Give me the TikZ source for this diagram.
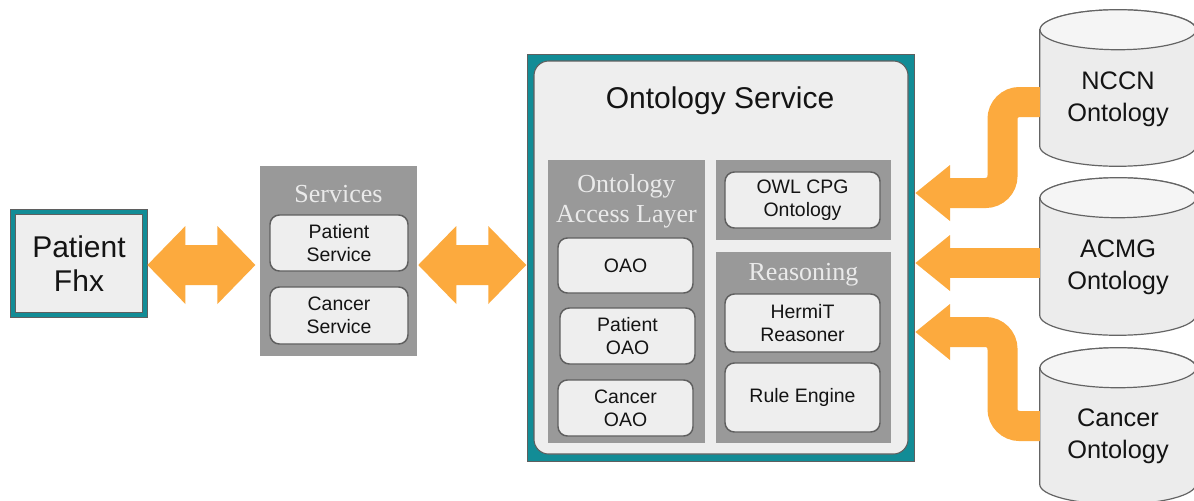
\documentclass[tikz,border=0pt]{standalone}
\usepackage{fontspec}
\setmainfont{Liberation Sans}
\newfontfamily\titlefont{Liberation Serif}
\usetikzlibrary{calc}
\definecolor{tealc}{RGB}{18,140,150}
\definecolor{panelc}{RGB}{153,153,153}
\definecolor{boxfill}{RGB}{238,238,238}
\definecolor{boxline}{RGB}{95,95,95}
\definecolor{flowc}{RGB}{252,170,62}
\definecolor{titlec}{RGB}{234,234,234}
\definecolor{cyltop}{RGB}{245,245,245}
\definecolor{cylbody}{RGB}{236,236,236}
\definecolor{cylline}{RGB}{100,100,100}
\definecolor{txtc}{RGB}{20,20,20}
\newcommand\drawcyl[1]{%
  \path[draw=cylline, fill=cylbody, line width=0.9pt]
    ($(#1.north west)+(0,20)$) -- ($(#1.south west)+(0,-20)$)
    arc[start angle=180,end angle=360,x radius=58.5pt,y radius=15pt]
    -- ($(#1.north east)+(0,20)$)
    arc[start angle=0,end angle=180,x radius=58.5pt,y radius=15pt] -- cycle;
  \draw[cylline, fill=cyltop, line width=0.9pt] ($(#1.north)+(0,20)$) ellipse[x radius=58.5pt, y radius=15pt];}
\begin{document}
\begin{tikzpicture}[x=0.75pt,y=-0.75pt,
  inbox/.style={draw=boxline, line width=1.1pt, fill=boxfill, rounded corners=7pt, align=center,
     font=\fontsize{14.6}{17}\selectfont, text=txtc, inner sep=0pt},
  panelbox/.style={fill=panelc, draw=none, inner sep=0pt},
  ptitle/.style={text=titlec, font=\titlefont\fontsize{19.5}{22.5}\selectfont, align=center, inner sep=0pt},
  cylnode/.style={draw=none, inner sep=0pt, minimum width=117pt},
  cyltext/.style={font=\fontsize{19}{24}\selectfont, align=center, text=txtc, inner sep=0pt},
  shaft/.style={draw=flowc, line width=22.5pt, rounded corners=12.75pt},
  head/.style={fill=flowc}]
\useasboundingbox[fill=white] (0,0) rectangle (1194,500);

% Patient
\node[draw=boxline, double=tealc, double distance=3pt, line width=0.6pt, fill=boxfill,
      minimum width=99pt, minimum height=77.5pt, inner sep=0pt, align=center,
      font=\fontsize{22.5}{26}\selectfont, text=txtc] (patient) at (79,263.5) {Patient\\Fhx};

% Services
\node[panelbox, minimum width=117.75pt, minimum height=142.5pt] (services) at (338.5,261) {};
\node[ptitle] (servt) at (338.5,194) {Services};
\node[inbox, minimum width=103.5pt, minimum height=42pt] (pserv) at (339,243) {Patient\\Service};
\node[inbox, minimum width=103.5pt, minimum height=42.75pt] (cserv) at (339,315.5) {Cancer\\Service};

% Ontology service
\node[fill=tealc, draw=boxline, line width=0.6pt, minimum width=290.25pt, minimum height=305.25pt, inner sep=0pt] (onto) at (720.5,257.5) {};
\node[fill=boxfill, draw=boxline, line width=0.8pt, rounded corners=11pt, minimum width=280.5pt, minimum height=294.75pt, inner sep=0pt] (ontoin) at (721,257.5) {};
\node[font=\fontsize{22.5}{26}\selectfont, text=txtc, inner sep=0pt] (ontot) at (720,101) {Ontology Service};

\node[panelbox, minimum width=117.75pt, minimum height=212.25pt] (oal) at (626.5,301.5) {};
\node[ptitle] (oalt) at (626.5,201.5) {Ontology\\Access Layer};
\node[inbox, minimum width=101.25pt, minimum height=41.25pt] (oao) at (625.5,265.5) {OAO};
\node[inbox, minimum width=101.25pt, minimum height=42pt] (poao) at (627.5,336) {Patient\\OAO};
\node[inbox, minimum width=101.25pt, minimum height=42pt] (coao) at (625.5,408) {Cancer\\OAO};

\node[panelbox, minimum width=131.25pt, minimum height=60pt] (owlp) at (803.5,200) {};
\node[inbox, minimum width=116.25pt, minimum height=42pt] (owl) at (802.5,200) {OWL CPG\\Ontology};

\node[panelbox, minimum width=131.25pt, minimum height=143.25pt] (reas) at (803.5,347.5) {};
\node[ptitle] (reast) at (803.5,275) {Reasoning};
\node[inbox, minimum width=116.25pt, minimum height=43.5pt] (hermit) at (802.5,323) {HermiT\\Reasoner};
\node[inbox, minimum width=116.25pt, minimum height=51.75pt] (rule) at (802.5,397.5) {Rule Engine};

% Cylinders
\node[cylnode, minimum height=117pt] (nccn) at (1118,88) {};
\node[cylnode, minimum height=117.75pt] (acmg) at (1118,256.5) {};
\node[cylnode, minimum height=117pt] (cancer) at (1118,426) {};
\drawcyl{nccn}
\drawcyl{acmg}
\drawcyl{cancer}
\node[cyltext] (nccnt) at (1118,99) {NCCN\\Ontology};
\node[cyltext] (acmgt) at (1118,267) {ACMG\\Ontology};
\node[cyltext] (cancert) at (1118,436) {Cancer\\Ontology};

% Double arrows
\fill[flowc] ($(patient.east)+(2,1.5)$) -- ++(38,-39) -- ++(0,19) -- ++(32,0) -- ++(0,-19)
  -- ++(38,39) -- ++(-38,39) -- ++(0,-19) -- ++(-32,0) -- ++(0,19) -- cycle;
\fill[flowc] ($(services.east)+(1,4)$) -- ++(38,-39) -- ++(0,19) -- ++(32,0) -- ++(0,-19)
  -- ++(38,39) -- ++(-38,39) -- ++(0,-19) -- ++(-32,0) -- ++(0,19) -- cycle;

% Ontology arrows
\draw[shaft] ($(nccn.west)+(0,14)$) -- (1002.5,102) -- (1002.5,193) -- (946,193);
\fill[head] (950,165) -- ($(onto.east |- 0,193)+(1,0)$) -- (950,221) -- cycle;
\draw[shaft] ($(acmg.west)+(0,6.5)$) -- (946,263);
\fill[head] (950,235) -- ($(onto.east |- 0,263)+(1,0)$) -- (950,291) -- cycle;
\draw[shaft] (cancer.west) -- (1002.5,426) -- (1002.5,332) -- (946,332);
\fill[head] (950,304) -- ($(onto.east |- 0,332)+(1,0)$) -- (950,360) -- cycle;
\end{tikzpicture}
\end{document}
